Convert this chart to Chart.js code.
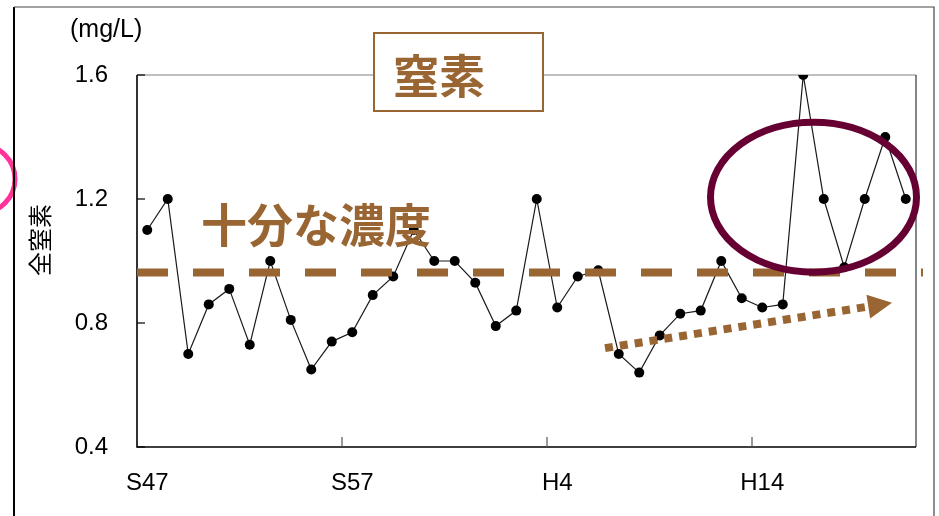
<!DOCTYPE html>
<html><head><meta charset="utf-8">
<script src="https://cdn.jsdelivr.net/npm/chart.js@4/dist/chart.umd.min.js"></script>
<style>html,body{margin:0;padding:0;background:#fff;overflow:hidden}</style>
</head><body>
<canvas id="c" width="939" height="516"></canvas>
<script>
const years = ["S47","S48","S49","S50","S51","S52","S53","S54","S55","S56",
  "S57","S58","S59","S60","S61","S62","S63","H1","H2","H3",
  "H4","H5","H6","H7","H8","H9","H10","H11","H12","H13",
  "H14","H15","H16","H17","H18","H19","H20","H21"];
const nitrogen = [1.1,1.2,0.7,0.86,0.91,0.73,1.0,0.81,0.65,0.74,
  0.77,0.89,0.95,1.1,1.0,1.0,0.93,0.79,0.84,1.2,
  0.85,0.95,0.97,0.7,0.64,0.76,0.83,0.84,1.0,0.88,
  0.85,0.86,1.6,1.2,0.98,1.2,1.4,1.2];
const shownLabels = ["S47","S57","H4","H14"];
const yTicks = [0.4, 0.8, 1.2, 1.6];
const thresholdValue = 0.963;
const titleText = "窒素";
const thresholdText = "十分な濃度";
const yAxisTitle = "全窒素";
const unitText = "(mg/L)";

const BROWN = "#996633";

const decor = {
  id: "decor",
  beforeDraw(chart) {
    const ctx = chart.ctx;
    ctx.save();
    ctx.fillStyle = "#fff";
    ctx.fillRect(0, 0, chart.width, chart.height);
    ctx.restore();
  },
  beforeDatasetsDraw(chart) {
    const ctx = chart.ctx, a = chart.chartArea, x = chart.scales.x, y = chart.scales.y;
    ctx.save();
    ctx.strokeStyle = "#808080"; ctx.lineWidth = 1.2;
    ctx.beginPath(); ctx.moveTo(a.left, a.top); ctx.lineTo(a.right, a.top); ctx.stroke();
    ctx.strokeStyle = "#333";
    ctx.beginPath(); ctx.moveTo(a.right, a.top); ctx.lineTo(a.right, a.bottom); ctx.stroke();
    ctx.strokeStyle = "#000"; ctx.lineWidth = 1.6;
    ctx.beginPath(); ctx.moveTo(a.left, a.top); ctx.lineTo(a.left, a.bottom); ctx.lineTo(a.right, a.bottom); ctx.stroke();
    ctx.lineWidth = 1.2;
    yTicks.forEach(v => {
      const py = y.getPixelForValue(v);
      ctx.beginPath(); ctx.moveTo(a.left, py); ctx.lineTo(a.left + 8, py); ctx.stroke();
    });
    const half = (x.getPixelForValue(1) - x.getPixelForValue(0)) / 2;
    ctx.strokeStyle = "#555";
    years.forEach((lab, i) => {
      if (i > 0 && shownLabels.includes(lab)) {
        const px = x.getPixelForValue(i) - half;
        ctx.beginPath(); ctx.moveTo(px, a.bottom); ctx.lineTo(px, a.bottom - 10); ctx.stroke();
      }
    });
    ctx.restore();
  },
  afterDatasetsDraw(chart) {
    const ctx = chart.ctx, a = chart.chartArea, x = chart.scales.x, y = chart.scales.y;
    ctx.save();
    const ty = y.getPixelForValue(thresholdValue);
    ctx.strokeStyle = BROWN; ctx.lineWidth = 8; ctx.setLineDash([31, 25]); ctx.lineCap = "butt";
    ctx.beginPath(); ctx.moveTo(a.left, ty); ctx.lineTo(a.right + 7, ty); ctx.stroke();
    ctx.setLineDash([]);
    ctx.fillStyle = BROWN;
    ctx.font = "bold 46px 'Noto Sans CJK JP'";
    ctx.textBaseline = "middle"; ctx.textAlign = "left";
    ctx.fillText(thresholdText, 201, y.getPixelForValue(1.117));
    const x0 = x.getPixelForValue(22.33), y0 = y.getPixelForValue(0.719);
    const x1 = x.getPixelForValue(36.33), y1 = y.getPixelForValue(0.865);
    const dx = x1 - x0, dy = y1 - y0, L = Math.hypot(dx, dy), ux = dx / L, uy = dy / L;
    const bx = x1 - ux * 24, by = y1 - uy * 24;
    ctx.strokeStyle = BROWN; ctx.lineWidth = 8; ctx.setLineDash([8, 7]);
    ctx.beginPath(); ctx.moveTo(x0, y0); ctx.lineTo(bx, by); ctx.stroke();
    ctx.setLineDash([]);
    ctx.beginPath();
    ctx.moveTo(x1, y1);
    ctx.lineTo(bx - uy * 12, by + ux * 12);
    ctx.lineTo(bx + uy * 12, by - ux * 12);
    ctx.closePath(); ctx.fill();
    ctx.strokeStyle = "#660033"; ctx.lineWidth = 7;
    ctx.beginPath();
    ctx.ellipse(x.getPixelForValue(32.5), y.getPixelForValue(1.206), 103, 75, 0, 0, Math.PI * 2);
    ctx.stroke();
    ctx.fillStyle = "#fff"; ctx.fillRect(374, 33, 169, 78);
    ctx.strokeStyle = BROWN; ctx.lineWidth = 2; ctx.strokeRect(374, 33, 169, 78);
    ctx.fillStyle = BROWN; ctx.font = "bold 46px 'Noto Sans CJK JP'";
    ctx.textAlign = "left"; ctx.fillText(titleText, 393, 76);
    ctx.strokeStyle = "#FF3399"; ctx.lineWidth = 5;
    ctx.beginPath(); ctx.arc(-19, 179, 34, 0, Math.PI * 2); ctx.stroke();
    ctx.strokeStyle = "#000"; ctx.lineWidth = 2;
    ctx.beginPath(); ctx.moveTo(14, 516); ctx.lineTo(14, 7); ctx.stroke();
    ctx.strokeStyle = "#444"; ctx.lineWidth = 1.2;
    ctx.beginPath(); ctx.moveTo(14, 7); ctx.lineTo(934, 7); ctx.lineTo(934, 516); ctx.stroke();
    ctx.fillStyle = "#000"; ctx.font = "25px 'Liberation Sans'";
    ctx.textAlign = "left"; ctx.textBaseline = "middle";
    ctx.fillText(unitText, 70, 30);
    ctx.translate(40, 240); ctx.rotate(-Math.PI / 2);
    ctx.font = "24px 'Noto Sans CJK JP'"; ctx.textAlign = "center";
    ctx.fillText(yAxisTitle, 0, 0);
    ctx.restore();
  }
};

new Chart(document.getElementById("c"), {
  type: "line",
  data: {
    labels: years,
    datasets: [{
      data: nitrogen,
      borderColor: "#1a1a1a",
      borderWidth: 1.2,
      pointRadius: 5,
      pointBackgroundColor: "#000",
      pointBorderWidth: 0,
      tension: 0
    }]
  },
  options: {
    responsive: false,
    animation: false,
    devicePixelRatio: 1,
    layout: { padding: { left: 0, top: 75, right: 23, bottom: 0 } },
    plugins: { legend: { display: false }, tooltip: { enabled: false } },
    scales: {
      x: {
        type: "category",
        offset: true,
        grid: { display: false, drawTicks: false },
        border: { display: false },
        ticks: {
          autoSkip: false, maxRotation: 0, minRotation: 0, padding: 22,
          color: "#000", font: { family: "'Liberation Sans'", size: 24 },
          callback: (v, i) => shownLabels.includes(years[i]) ? years[i] : ""
        },
        afterFit: s => { s.height = 69; }
      },
      y: {
        min: 0.4, max: 1.6,
        grid: { display: false, drawTicks: false },
        border: { display: false },
        afterBuildTicks: s => { s.ticks = yTicks.map(v => ({ value: v })); },
        ticks: {
          padding: 29, color: "#000", font: { family: "'Liberation Sans'", size: 24 },
          callback: v => Number(v).toFixed(1)
        },
        afterFit: s => { s.width = 137; }
      }
    }
  },
  plugins: [decor]
});
</script>
</body></html>
